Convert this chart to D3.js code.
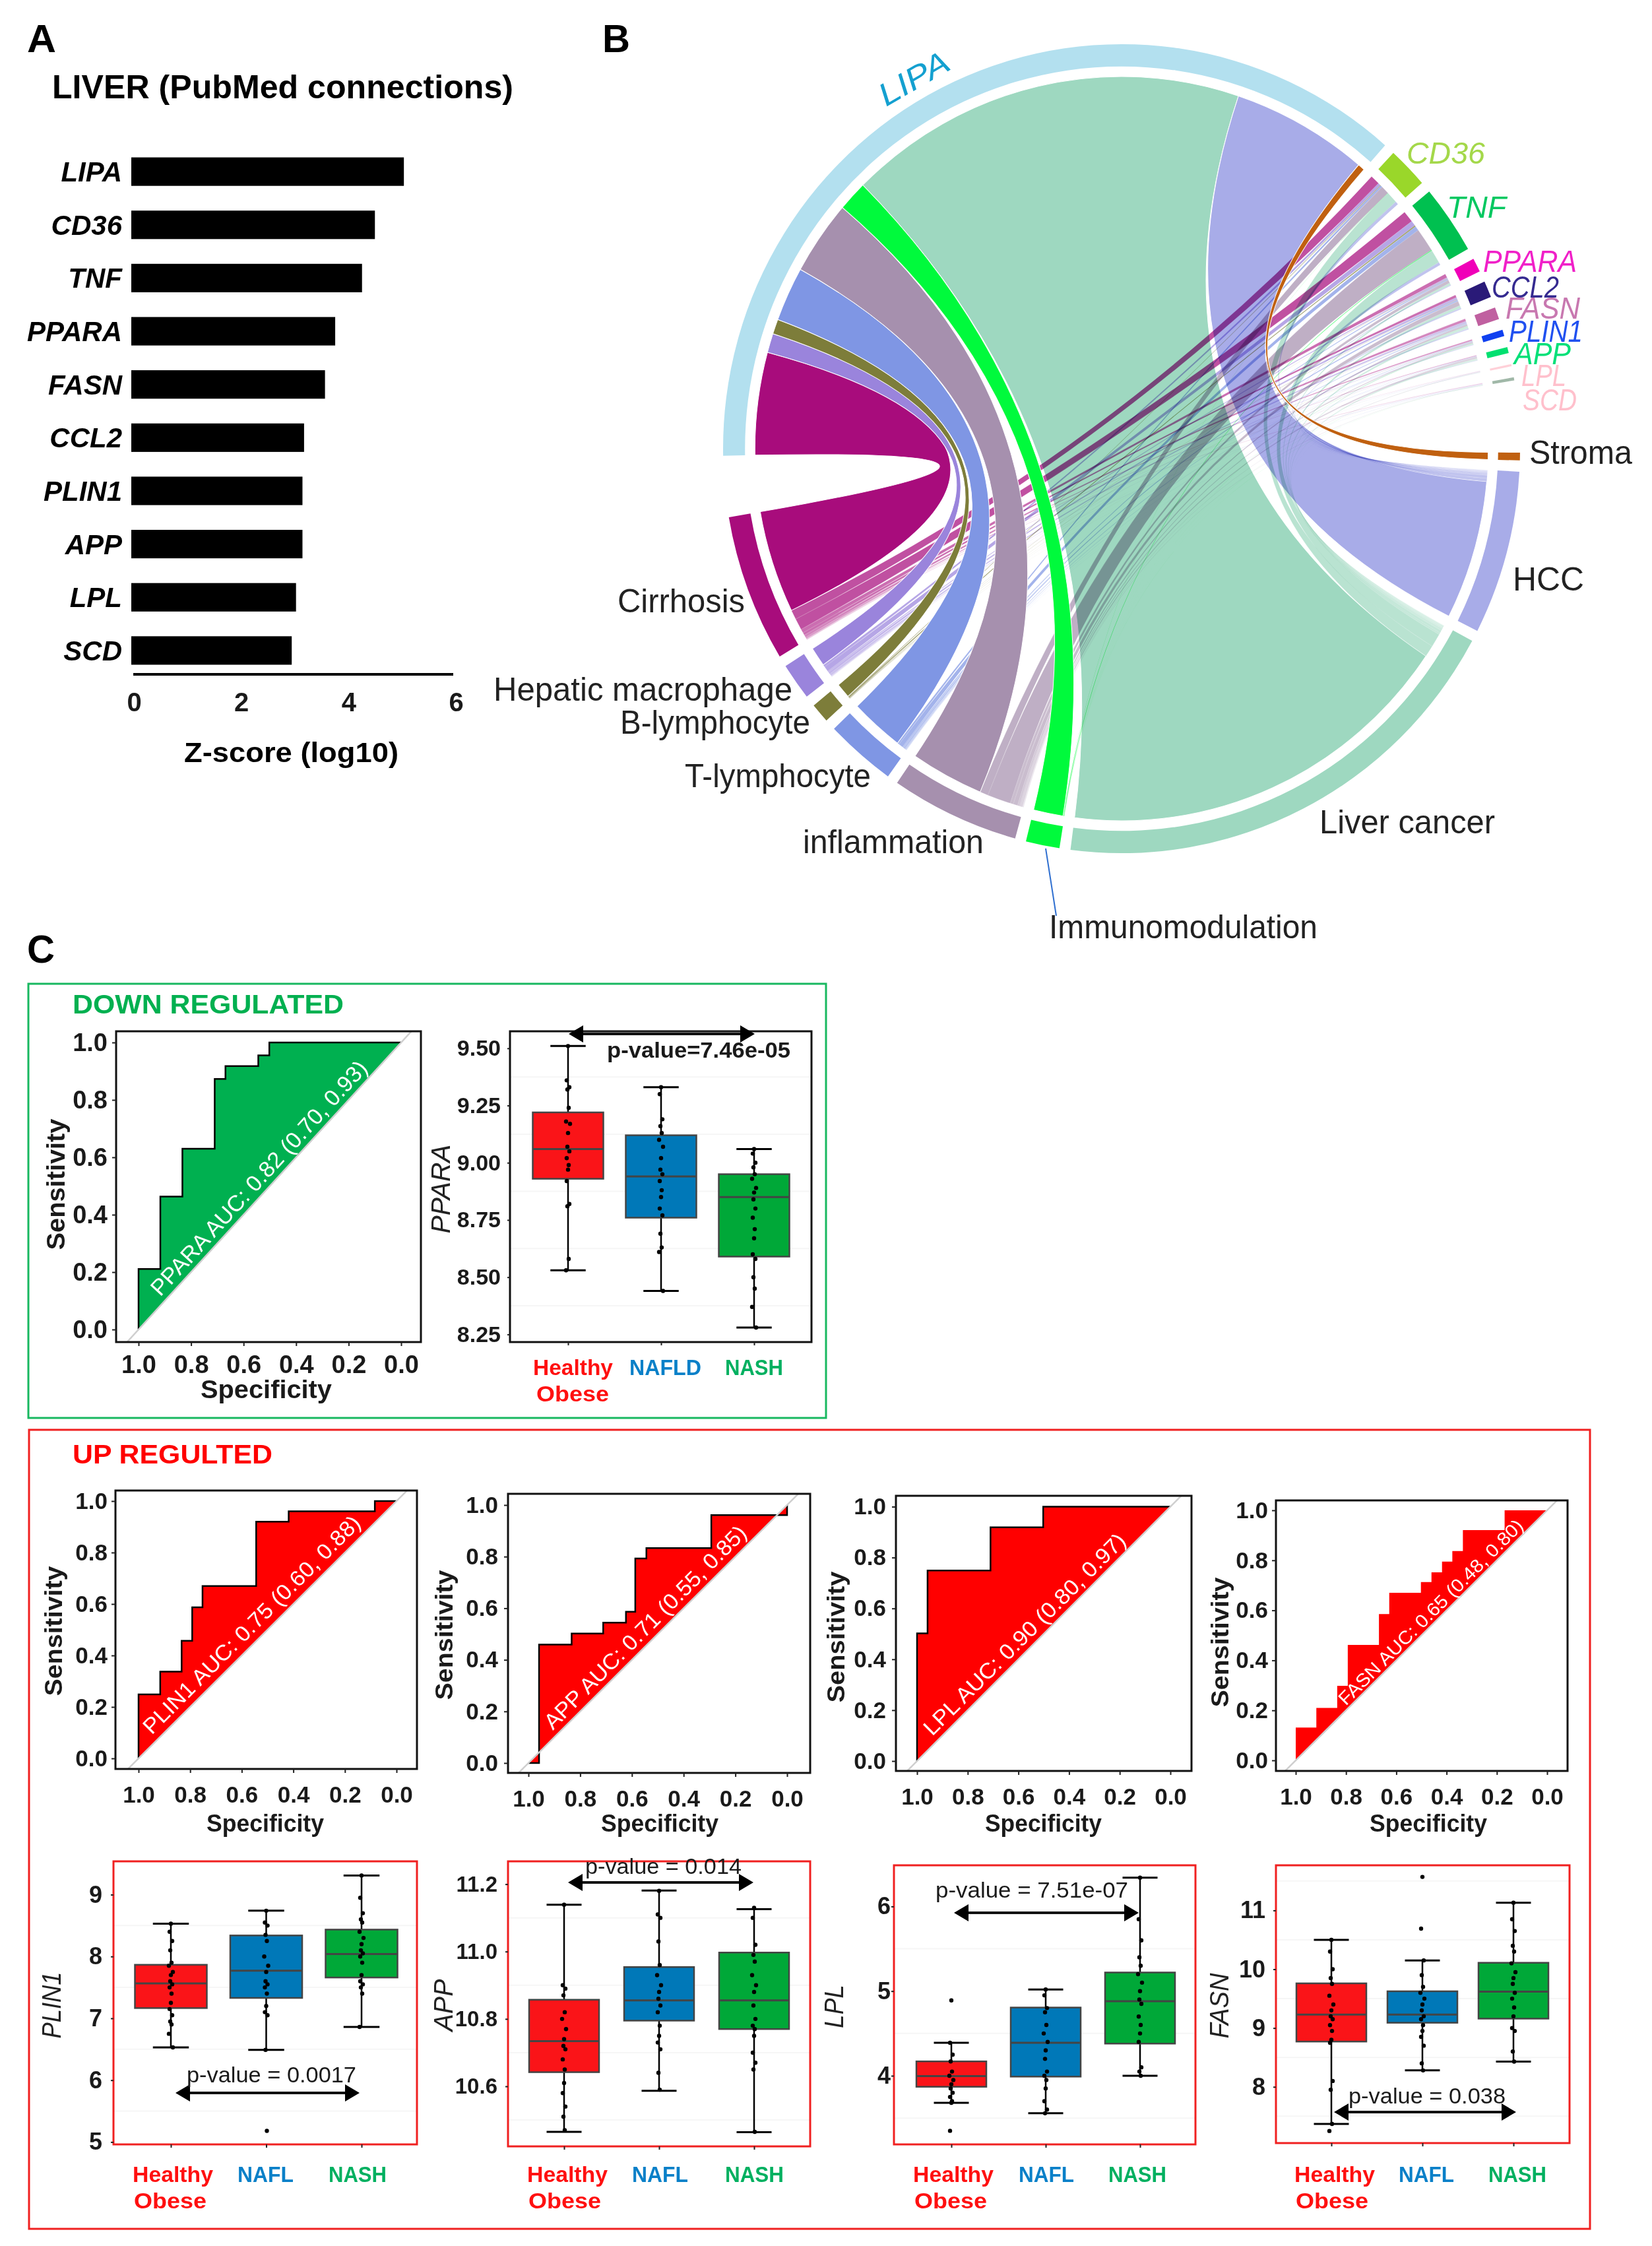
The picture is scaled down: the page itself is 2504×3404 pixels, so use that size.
<!DOCTYPE html>
<html><head><meta charset="utf-8">
<script src="https://cdn.jsdelivr.net/npm/d3@7/dist/d3.min.js"></script>
<style>html,body{margin:0;padding:0;background:#fff}svg{display:block}text{font-family:"Liberation Sans",Arial,sans-serif}</style>
</head><body><svg id="c" width="2504" height="3404" viewBox="0 0 2504 3404"></svg>
<script>
// ---------- DATA: panel A ----------
const barGenes = ["LIPA","CD36","TNF","PPARA","FASN","CCL2","PLIN1","APP","LPL","SCD"];
const barScores = [5.08,4.54,4.30,3.80,3.61,3.22,3.19,3.19,3.07,2.99];
const barTicks = [0,2,4,6];
// ---------- DATA: panel B ----------
const chordDiseases = ["Cirrhosis","Hepatic macrophage","B-lymphocyte","T-lymphocyte","inflammation","Immunomodulation","Liver cancer","HCC","Stroma"];
const chordGenes = ["LIPA","CD36","TNF","PPARA","CCL2","FASN","PLIN1","APP","LPL","SCD"];
const linkLIPA  = [16,3,2.3,8.5,11.6,4.7,63.5,21.7,1.1];
const linkCD36  = [1.5,.4,.1,.3,1.3,.03,1.8,.5,0];
const linkTNF   = [1.8,.8,.2,.7,3.7,.12,2.1,.45,0];
const linkPPARA = [.6,.2,.05,.2,.5,.01,.3,.15,0];
const linkCCL2  = [.4,.35,.05,.25,.7,.01,.4,.2,0];
const linkFASN  = [.4,.3,.03,.15,.3,.01,.35,.2,0];
const linkPLIN1 = [.2,.1,.02,.1,.2,.01,.2,.1,0];
const linkAPP   = [.1,.05,.02,.05,.3,.01,.25,.1,0];
const linkLPL   = [.05,.02,.01,.02,.1,.01,.05,.05,0];
const linkSCD   = [.1,.08,.02,.03,.1,.01,.05,.05,0];
// ---------- DATA: panel C, ROC curves [specificity, sensitivity] ----------
const rocPPARA = [[1,0],[.917,.211],[.833,.463],[.71,.63],[.669,.873],[.544,.918],[.502,.955],[0,1]];
const rocPLIN1 = [[1,0],[.916,.249],[.833,.337],[.792,.457],[.752,.587],[.544,.67],[.418,.92],[.084,.96],[0,1]];
const rocAPP   = [[1,0],[.959,0],[.833,.459],[.711,.502],[.623,.544],[.587,.586],[.544,.793],[.293,.833],[0,.961],[0,1]];
const rocLPL   = [[1,0],[.9585,.502],[.71,.749],[.502,.919],[0,1]];
const rocFASN  = [[1,0],[.918,.131],[.835,.21],[.793,.298],[.669,.462],[.628,.585],[.502,.67],[.46,.713],[.418,.752],[.377,.795],[.335,.837],[.169,.921],[0,1]];
const rocTicks = [1,.8,.6,.4,.2,0];
// ---------- DATA: panel C, box stats [lowWhisker, q1, median, q3, highWhisker] per group ----------
const boxPPARA = [[8.53,8.93,9.06,9.22,9.51],[8.44,8.76,8.94,9.12,9.33],[8.28,8.59,8.85,8.95,9.06]];
const boxPLIN1 = [[6.53,7.166,7.565,7.866,8.53],[6.49,7.33,7.77,8.34,8.74],[6.86,7.66,8.04,8.435,9.31]];
const boxAPP   = [[10.465,10.642,10.734,10.857,11.139],[10.587,10.795,10.855,10.954,11.181],[10.464,10.77,10.855,10.997,11.126]];
const boxLPL   = [[3.68,3.87,3.997,4.17,4.39],[3.557,3.99,4.39,4.806,5.02],[4.0,4.38,4.88,5.22,6.34]];
const boxFASN  = [[7.37,8.77,9.23,9.76,10.5],[8.28,9.09,9.23,9.625,10.15],[8.43,9.16,9.62,10.11,11.13]];
// ---------- DATA: panel C, sample points per group ----------
const ptsPPARA = [[9.51,9.36,9.33,9.32,9.24,9.18,9.17,9.13,9.07,9.05,9.02,8.99,8.97,8.92,8.82,8.81,8.58,8.53],
 [9.33,9.3,9.19,9.16,9.13,9.1,9.07,9.02,8.97,8.95,8.92,8.88,8.85,8.8,8.77,8.69,8.63,8.61,8.44],
 [9.06,9.04,9,8.98,8.95,8.93,8.89,8.87,8.84,8.8,8.76,8.71,8.67,8.6,8.58,8.5,8.45,8.37,8.28]];
const ptsPLIN1 = [[8.53,8.4,8.25,8.1,7.9,7.85,7.75,7.7,7.6,7.55,7.5,7.4,7.25,7.15,7.05,6.95,6.9,6.75,6.53],
 [8.74,8.55,8.5,8.35,8.25,8,7.85,7.75,7.6,7.55,7.5,7.4,7.2,7.1,7.05,6.49,5.18],
 [9.31,8.95,8.7,8.6,8.55,8.4,8.3,8.2,8.1,8.05,8,7.9,7.7,7.6,7.55,7.5,7.4,6.86]];
const ptsAPP = [[11.139,10.9,10.89,10.87,10.82,10.8,10.77,10.74,10.72,10.71,10.68,10.65,10.61,10.58,10.54,10.51,10.47],
 [11.18,11.11,11.1,11.03,10.96,10.93,10.9,10.88,10.86,10.84,10.82,10.78,10.75,10.73,10.71,10.64,10.59],
 [11.13,11.1,11.02,10.99,10.97,10.93,10.9,10.88,10.84,10.8,10.78,10.77,10.75,10.7,10.67,10.65,10.465]];
const ptsLPL = [[4.89,4.39,4.25,4.17,4.05,4,3.95,3.9,3.85,3.8,3.75,3.7,3.68,3.35],
 [5.02,4.95,4.8,4.75,4.6,4.5,4.4,4.3,4.2,4.05,4,3.95,3.85,3.7,3.6,3.557],
 [6.34,5.85,5.6,5.4,5.3,5.2,5.1,5,4.9,4.85,4.7,4.6,4.5,4.4,4.1,4.05,4]];
const ptsFASN = [[10.5,10.3,10,9.85,9.75,9.55,9.4,9.3,9.2,9.15,9.05,8.95,8.8,8.75,8.1,7.95,7.37,7.25],
 [11.57,10.69,10.15,9.9,9.7,9.6,9.5,9.4,9.3,9.2,9.15,9.05,8.95,8.85,8.7,8.4,8.28],
 [11.13,10.85,10.65,10.4,10.3,10.1,9.95,9.85,9.75,9.6,9.5,9.35,9.2,9,8.95,8.6,8.43]];

// ---------- helpers ----------
const svg = d3.select("#c");
svg.append("rect").attr("width",2504).attr("height",3404).attr("fill","#fff");
function T(g,x,y,s,o={}){
  const t=g.append("text").attr("x",x).attr("y",y).text(s)
    .attr("font-size",o.size||40).attr("fill",o.fill||"#000")
    .attr("font-weight",o.weight||"normal").attr("font-style",o.style||"normal")
    .attr("text-anchor",o.anchor||"start");
  if(o.w) t.attr("textLength",o.w).attr("lengthAdjust","spacingAndGlyphs");
  if(o.rot!=null) t.attr("transform",`rotate(${o.rot} ${x} ${y})`);
  if(o.op!=null) t.attr("opacity",o.op);
  return t;
}
function styleAxis(a,size,weight){
  a.selectAll("text").attr("font-size",size).attr("font-weight",weight||"bold").attr("fill","#1a1a1a").attr("font-family",'"Liberation Sans",Arial,sans-serif');
  a.selectAll("line").attr("stroke","#222").attr("stroke-width",2);
  a.select(".domain").remove();
}
function rect(g,x0,y0,x1,y1,stroke,sw){
  return g.append("rect").attr("x",x0).attr("y",y0).attr("width",x1-x0).attr("height",y1-y0)
    .attr("fill","none").attr("stroke",stroke).attr("stroke-width",sw);
}

// ---------- Panel A ----------
const A = svg.append("g");
T(A,41,79,"A",{size:60,weight:"bold",w:44});
T(A,79,149,"LIVER (PubMed connections)",{size:50,weight:"bold",w:699});
const barX = d3.scaleLinear().domain([0,6]).range([199,687]);
const barY = d3.scaleBand().domain(barGenes).range([220,1026]).paddingInner(.465).paddingOuter(.23);
A.selectAll("rect.bar").data(barGenes).join("rect").attr("class","bar")
  .attr("x",barX(0)).attr("y",d=>barY(d)).attr("height",barY.bandwidth())
  .attr("width",(d,i)=>barX(barScores[i])-barX(0)).attr("fill","#000");
A.selectAll("text.gene").data(barGenes).join("text").attr("class","gene")
  .attr("x",185).attr("y",d=>barY(d)+barY.bandwidth()/2+15).attr("text-anchor","end")
  .attr("font-size",42).attr("font-weight","bold").attr("font-style","italic").text(d=>d);
A.append("line").attr("x1",202).attr("x2",barX(6)).attr("y1",1022).attr("y2",1022).attr("stroke","#000").attr("stroke-width",4);
const ax = A.append("g").attr("transform","translate(4,1022)").call(d3.axisBottom(barX).tickValues(barTicks).tickFormat(d3.format("d")).tickSize(0).tickPadding(28));
styleAxis(ax,40);
T(A,279,1155,"Z-score (log10)",{size:42,weight:"bold",w:325});

// ---------- Panel B ----------
const B = svg.append("g");
T(B,913,79,"B",{size:60,weight:"bold",w:42});
const diseaseFill = {"Cirrhosis":"#a80c7c","Hepatic macrophage":"#9a84dc","B-lymphocyte":"#7d7d3a","T-lymphocyte":"#7f96e4","inflammation":"#a690ae","Immunomodulation":"#00fa3c","Liver cancer":"#9ed8c0","HCC":"#a8ace8","Stroma":"#c06010"};
const geneFill = {"LIPA":"#b3e0ef","CD36":"#9ad72a","TNF":"#00c050","PPARA":"#f000b8","CCL2":"#2a1a78","FASN":"#c060a0","PLIN1":"#1040f0","APP":"#00e070","LPL":"#ffd0d8","SCD":"#a0b8a8"};
const linkRows = [linkLIPA,linkCD36,linkTNF,linkPPARA,linkCCL2,linkFASN,linkPLIN1,linkAPP,linkLPL,linkSCD];
const R = 604, rRibbon = .92*R, rIn = .945*R;
const chordG = B.append("g").attr("transform",`translate(1700,680) scale(1,1.015)`);
const rad = d3.scaleLinear().domain([0,360]).range([0,2*Math.PI]);
const GAP = 1.6, GAP_AFTER_GENES = 10.3;
let cur = -91;
const geneArc = {}, diseaseArc = {};
chordGenes.forEach((g,i)=>{ const s=d3.sum(linkRows[i]); geneArc[g]=[cur,cur+s]; cur+=s+(i==chordGenes.length-1?GAP_AFTER_GENES:GAP); });
[...chordDiseases].reverse().forEach((d,k)=>{ const j=chordDiseases.indexOf(d); const s=d3.sum(linkRows,r=>r[j]); diseaseArc[d]=[cur,cur+s]; cur+=s+GAP; });
// ribbons: genes stack Cirrhosis→Stroma clockwise, diseases stack SCD→LIPA clockwise
const links=[];
chordGenes.forEach((g,i)=>{ let a=geneArc[g][0]; chordDiseases.forEach((d,j)=>{ const v=linkRows[i][j]; if(v>0) links.push({g,d,i,j,v,s0:a,s1:a+v}); a+=v; }); });
chordDiseases.forEach((d,j)=>{ let a=diseaseArc[d][0]; for(let i=chordGenes.length-1;i>=0;i--){ const l=links.find(k=>k.i==i&&k.j==j); if(l){ l.t0=a; l.t1=a+l.v; a+=l.v; } } });
const ribbon = d3.ribbon().radius(rRibbon);
const layerOf = l => l.i==0 ? (l.d=="Liver cancer"?0:l.d=="HCC"?1:3) : 2;
const geneOp = {"CD36":.72,"TNF":.72,"PPARA":.6,"CCL2":.6,"FASN":.5,"PLIN1":.45,"APP":.4,"LPL":.25,"SCD":.25,"LIPA":1};
chordG.selectAll("path.link").data(d3.sort(links,(a,b)=>layerOf(a)-layerOf(b)||(a.i-b.i)||(a.j-b.j))).join("path").attr("class","link")
  .attr("d",l=>ribbon({source:{startAngle:rad(l.s0),endAngle:rad(l.s1)},target:{startAngle:rad(l.t0),endAngle:rad(l.t1)}}))
  .attr("fill",l=>diseaseFill[l.d]).attr("opacity",l=>geneOp[l.g])
  .style("mix-blend-mode",l=>l.i==0?"normal":"multiply")
  .attr("stroke","#fff").attr("stroke-width",l=>l.i==0?1:.2);
// top brown and green ribbons stay above
chordG.selectAll("path.link").filter(l=>l.i==0&&(l.d=="Immunomodulation"||l.d=="Stroma")).raise();
const arcGen = d3.arc().innerRadius(rIn).outerRadius(R);
chordG.selectAll("path.gs").data(chordGenes).join("path").attr("class","gs")
  .attr("d",g=>arcGen({startAngle:rad(geneArc[g][0]),endAngle:rad(geneArc[g][1])})).attr("fill",g=>geneFill[g]);
chordG.selectAll("path.ds").data(chordDiseases).join("path").attr("class","ds")
  .attr("d",d=>arcGen({startAngle:rad(diseaseArc[d][0]),endAngle:rad(diseaseArc[d][1])})).attr("fill",d=>diseaseFill[d]);
B.append("line").attr("x1",1585).attr("y1",1286).attr("x2",1601).attr("y2",1388).attr("stroke","#3070d0").attr("stroke-width",2);
const diseaseLabels=[["Stroma",2318,703,156],["HCC",2293,895,108],["Liver cancer",2000,1263,266],["Immunomodulation",1590,1422,407],["inflammation",1217,1293,274],["T-lymphocyte",1038,1193,282],["B-lymphocyte",940,1112,288],["Hepatic macrophage",748,1062,453],["Cirrhosis",936,928,193]];
diseaseLabels.forEach(d=>T(B,d[1],d[2],d[0],{size:50,w:d[3],fill:"#222"}));
const geneLabels=[["CD36",2132,248,119,"#a4d84a"],["TNF",2193,330,90,"#00c860"],["PPARA",2248,412,142,"#f020c8"],["CCL2",2261,451,102,"#352a90"],["FASN",2282,483,113,"#c878b0"],["PLIN1",2287,518,112,"#2050f0"],["APP",2295,552,86,"#00e078"],["LPL",2306,585,68,"#ffc0cc"],["SCD",2308,622,82,"#ffc0cc"]];
geneLabels.forEach(d=>T(B,d[1],d[2],d[0],{size:46,w:d[3],fill:d[4],style:"italic"}));
T(B,1343,162,"LIPA",{size:48,w:116,fill:"#14a0d0",style:"italic",rot:-30});

// ---------- Panel C ----------
const C = svg.append("g");
T(C,41,1459,"C",{size:60,weight:"bold",w:42});
rect(C,43,1491,1252,2149,"#18b860",3);
T(C,110,1536,"DOWN REGULATED",{size:41,weight:"bold",fill:"#00b050",w:411});
rect(C,44,2167,2410,3378,"#f02020",3);
T(C,110,2218,"UP REGULTED",{size:41,weight:"bold",fill:"#ff0000",w:303});

const rocPanels=[
 {id:"a",data:rocPPARA,fill:"#00b050",line:"#000",auc:"PPARA AUC: 0.82 (0.70, 0.93)",box:[176,1563,638,2034],xt:[210,608],yt:[2015,1580],ylab:163,xlabBase:2081,spec:[304,2119,199],sens:[98,1795,199],font:38,aucP:[236,1959,556,1609],aucSize:34},
 {id:"b",data:rocPLIN1,fill:"#ff0000",line:"#000",auc:"PLIN1 AUC: 0.75 (0.60, 0.88)",box:[175,2259,632,2681],xt:[210,601],yt:[2665,2275],ylab:163,xlabBase:2732,spec:[313,2776,178],sens:[94,2472,197],font:35,aucP:[223,2623,546,2299],aucSize:33},
 {id:"c",data:rocAPP,fill:"#ff0000",line:"#000",auc:"APP AUC: 0.71 (0.55, 0.85)",box:[770,2264,1228,2687],xt:[801,1193],yt:[2672,2281],ylab:755,xlabBase:2738,spec:[911,2776,178],sens:[686,2478,197],font:35,aucP:[831,2616,1131,2314],aucSize:33},
 {id:"d",data:rocLPL,fill:"#ff0000",line:"#000",auc:"LPL AUC: 0.90 (0.80, 0.97)",box:[1358,2267,1806,2684],xt:[1390,1774],yt:[2669,2283.5],ylab:1343,xlabBase:2735,spec:[1493,2776,177],sens:[1280,2481,199],font:35,aucP:[1406,2625,1706,2326],aucSize:33},
 {id:"e",data:rocFASN,fill:"#ff0000",line:"none",auc:"FASN AUC: 0.65 (0.48, 0.80)",box:[1934,2274,2376,2684],xt:[1964,2345],yt:[2668,2289],ylab:1922,xlabBase:2735,spec:[2076,2776,178],sens:[1862,2489,197],font:35,aucP:[2033,2579,2308,2303],aucSize:28}
];
const AUC_SHIFT = 7; // baseline sits toward the diagonal
rocPanels.forEach(p=>{
  const g=C.append("g");
  const [x0,y0,x1,y1]=p.box;
  const x=d3.scaleLinear().domain([1,0]).range(p.xt), y=d3.scaleLinear().domain([0,1]).range(p.yt);
  const clip="clip"+p.id;
  g.append("clipPath").attr("id",clip).append("rect").attr("x",x0).attr("y",y0).attr("width",x1-x0).attr("height",y1-y0);
  const inner=g.append("g").attr("clip-path",`url(#${clip})`);
  const line=d3.line().x(d=>x(d[0])).y(d=>y(d[1])).curve(d3.curveStepBefore);
  inner.append("path").attr("d",line(p.data)+"Z").attr("fill",p.fill);
  inner.append("path").attr("d",line(p.data)).attr("fill","none").attr("stroke",p.line).attr("stroke-width",2.5);
  inner.append("line").attr("x1",x(1.1)).attr("y1",y(-.1)).attr("x2",x(-.1)).attr("y2",y(1.1)).attr("stroke","#cfcfcf").attr("stroke-width",2.5);
  const [ax0,ay0,ax1,ay1]=p.aucP;
  const ang=Math.atan2(ay1-ay0,ax1-ax0)*180/Math.PI;
  T(g,ax0+AUC_SHIFT,ay0+AUC_SHIFT,p.auc,{size:p.aucSize,fill:"#fff",w:Math.hypot(ax1-ax0,ay1-ay0)-6,rot:ang});
  rect(g,x0,y0,x1,y1,"#111",3);
  const fmt=d3.format(".1f");
  const xa=g.append("g").attr("transform",`translate(0,${y1})`).call(d3.axisBottom(x).tickValues(rocTicks).tickFormat(fmt).tickSize(6).tickPadding(p.xlabBase-y1-p.font*.72-6));
  styleAxis(xa,p.font);
  const ya=g.append("g").attr("transform",`translate(${x0},0)`).call(d3.axisLeft(y).tickValues(rocTicks).tickFormat(fmt).tickSize(6).tickPadding(x0-p.ylab-6));
  styleAxis(ya,p.font);
  T(g,p.spec[0],p.spec[1],"Specificity",{size:p.font+1,weight:"bold",w:p.spec[2],fill:"#1a1a1a"});
  T(g,p.sens[0],p.sens[1]+p.sens[2]/2,"Sensitivity",{size:p.font+1,weight:"bold",w:p.sens[2],fill:"#1a1a1a",rot:-90});
});

const boxFills=["#fa1418","#0078b8","#00a838"];
const catFill=["#ff1010","#0a80c8","#00b060"];
const jitter=[0,-2,2,-1,1,-3,3,0,-1,2,-2,1];
const boxPanels=[
 {id:"PPARA",stats:boxPPARA,pts:ptsPPARA,frame:"#111",box:[773,1563,1230,2034],centers:[861,1143],boxW:107,yD:[8.25,9.5],yR:[2022.4,1588.8],ticks:[8.25,8.5,8.75,9,9.25,9.5],fmt:".2f",pad:14,tsize:34,
  p:["p-value=7.46e-05",920,1603,278],arrow:[862,1144,1567],ylab:[682,1802,135],cats:[["Healthy",808,2084,121],["Obese",813,2124,110],["NAFLD",954,2084,109],["NASH",1099,2084,88]],pw:"bold"},
 {id:"PLIN1",stats:boxPLIN1,pts:ptsPLIN1,frame:"#f02020",box:[172,2821,632,3250],centers:[259,548],boxW:109,yD:[5,9],yR:[3246.4,2871.5],ticks:[5,6,7,8,9],fmt:"d",pad:17,tsize:36,
  p:["p-value = 0.0017",283,3156,257],arrow:[266,545,3172],ylab:[92,3039,101],cats:[["Healthy",201,3307,122],["Obese",203,3347,110],["NAFL",360,3307,85],["NASH",498,3307,88]]},
 {id:"APP",stats:boxAPP,pts:ptsAPP,frame:"#f02020",box:[770,2821,1228,3253],centers:[855,1143],boxW:106,yD:[10.6,11.2],yR:[3162,2855.6],ticks:[10.6,10.8,11,11.2],fmt:".1f",pad:16,tsize:33,
  p:["p-value = 0.014",887,2840,237],arrow:[861,1142,2853],ylab:[686,3039,79],cats:[["Healthy",799,3307,122],["Obese",801,3347,110],["NAFL",958,3307,85],["NASH",1099,3307,89]]},
 {id:"LPL",stats:boxLPL,pts:ptsLPL,frame:"#f02020",box:[1355,2827,1812,3250],centers:[1442,1728],boxW:106,yD:[4,6],yR:[3146,2889.4],ticks:[4,5,6],fmt:"d",pad:5,tsize:36,
  p:["p-value = 7.51e-07",1418,2875.5,292],arrow:[1446,1726,2899],ylab:[1278,3041,66],cats:[["Healthy",1384,3307,122],["Obese",1386,3347,110],["NAFL",1544,3307,84],["NASH",1680,3307,88]]},
 {id:"FASN",stats:boxFASN,pts:ptsFASN,frame:"#f02020",box:[1934,2827,2379,3248],centers:[2018,2294],boxW:106,yD:[8,11],yR:[3162.8,2895.4],ticks:[8,9,10,11],fmt:"d",pad:16,tsize:36,
  p:["p-value = 0.038",2044,3188,238],arrow:[2022,2298,3201],ylab:[1862,3040,99],cats:[["Healthy",1962,3307,122],["Obese",1964,3347,110],["NAFL",2120,3307,84],["NASH",2256,3307,88]]}
];
const groupIdx=[0,1,2];
boxPanels.forEach(p=>{
  const g=C.append("g");
  const [x0,y0,x1,y1]=p.box;
  const x=d3.scalePoint().domain(groupIdx).range(p.centers);
  const y=d3.scaleLinear().domain(p.yD).range(p.yR);
  const tk=p.ticks, mids=d3.pairs(tk,(a,b)=>(a+b)/2);
  const step=tk[1]-tk[0];
  const grid=[tk[0]-step/2,...mids,tk[tk.length-1]+step/2].filter(v=>y(v)>y0+4&&y(v)<y1-4);
  g.selectAll("line.grid").data(grid).join("line").attr("class","grid").attr("x1",x0).attr("x2",x1).attr("y1",y).attr("y2",y).attr("stroke","#f6f6f6").attr("stroke-width",2);
  const capW=p.boxW*.5;
  const gs=g.selectAll("g.bx").data(groupIdx).join("g").attr("class","bx");
  gs.append("line").attr("x1",x).attr("x2",x).attr("y1",i=>y(p.stats[i][0])).attr("y2",i=>y(p.stats[i][4])).attr("stroke","#000").attr("stroke-width",2.5);
  [0,4].forEach(k=>gs.append("line").attr("x1",i=>x(i)-capW/2).attr("x2",i=>x(i)+capW/2).attr("y1",i=>y(p.stats[i][k])).attr("y2",i=>y(p.stats[i][k])).attr("stroke","#000").attr("stroke-width",3));
  gs.append("rect").attr("x",i=>x(i)-p.boxW/2).attr("width",p.boxW).attr("y",i=>y(p.stats[i][3])).attr("height",i=>y(p.stats[i][1])-y(p.stats[i][3])).attr("fill",i=>boxFills[i]).attr("stroke","#444").attr("stroke-width",2.5);
  gs.append("line").attr("x1",i=>x(i)-p.boxW/2).attr("x2",i=>x(i)+p.boxW/2).attr("y1",i=>y(p.stats[i][2])).attr("y2",i=>y(p.stats[i][2])).attr("stroke","#444").attr("stroke-width",3);
  gs.each(function(i){
    d3.select(this).selectAll("circle").data(p.pts[i]).join("circle").attr("cx",(d,k)=>x(i)+jitter[k%jitter.length]).attr("cy",d=>y(d)).attr("r",3.2).attr("fill","#000");
  });
  rect(g,x0,y0,x1,y1,p.frame,3);
  const xa=g.append("g").attr("transform",`translate(0,${y1})`).call(d3.axisBottom(x).tickFormat("").tickSize(5));
  styleAxis(xa,10);
  const ya=g.append("g").attr("transform",`translate(${x0},0)`).call(d3.axisLeft(y).tickValues(tk).tickFormat(d3.format(p.fmt)).tickSize(4).tickPadding(p.pad-4));
  styleAxis(ya,p.tsize);
  // p-value double arrow
  const [ax0,ax1,ay]=p.arrow;
  g.append("line").attr("x1",ax0+12).attr("x2",ax1-12).attr("y1",ay).attr("y2",ay).attr("stroke","#111").attr("stroke-width",4);
  g.append("path").attr("d",`M${ax0},${ay}l22,-13v26zM${ax1},${ay}l-22,-13v26z`).attr("fill","#000");
  T(g,p.p[1],p.p[2],p.p[0],{size:34,w:p.p[3],fill:"#1a1a1a",weight:p.pw||"normal"});
  T(g,p.ylab[0],p.ylab[1]+p.ylab[2]/2,p.id,{size:40,style:"italic",w:p.ylab[2],fill:"#222",rot:-90});
  p.cats.forEach((c,i)=>T(g,c[1],c[2],c[0],{size:33,weight:"bold",w:c[3],fill:catFill[i==0||i==1?0:i-1]}));
});
</script></body></html>
